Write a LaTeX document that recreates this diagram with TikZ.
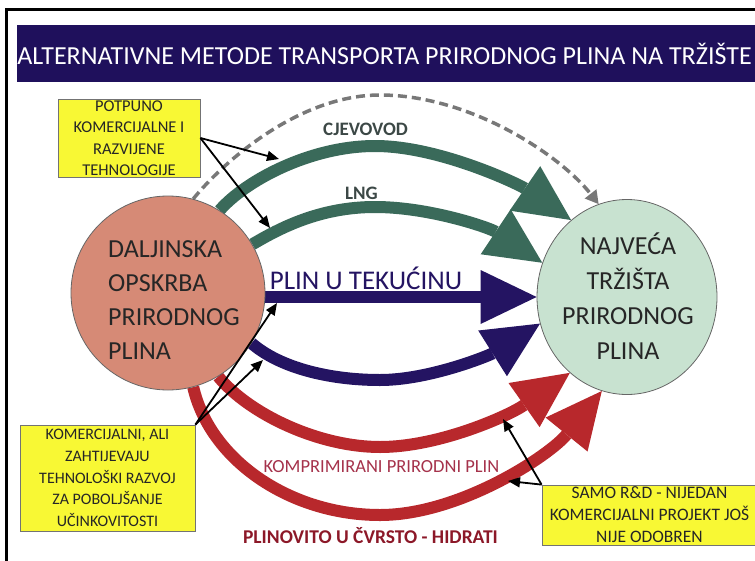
\documentclass[tikz,border=0pt]{standalone}
\usepackage{fontspec}
\setmainfont{Carlito}
\usetikzlibrary{arrows.meta,shapes.geometric}
\pgfdeclarelayer{background}
\pgfsetlayers{background,main}
\definecolor{titlebg}{RGB}{31,16,92}
\definecolor{salmon}{RGB}{214,138,118}
\definecolor{mint}{RGB}{200,226,208}
\definecolor{pipegreen}{RGB}{58,106,90}
\definecolor{navy}{RGB}{36,20,98}
\definecolor{redarr}{RGB}{184,40,44}
\definecolor{dashgray}{RGB}{120,120,120}
\definecolor{boxyellow}{RGB}{248,248,52}
\definecolor{labelgray}{RGB}{60,72,70}
\definecolor{cngred}{RGB}{165,50,75}
\definecolor{hydred}{RGB}{140,24,40}
\begin{document}
\begin{tikzpicture}[x=1pt,y=-1pt,
  bigarrow/.style={line width=12pt,-{Triangle[length=56pt 0 0,width=54pt 0 0,line width=0pt 0 0]}},
  note/.style={rectangle,draw=black!55,line width=0.8pt,fill=boxyellow,inner sep=0pt,align=center,text=black!85},
  pointer/.style={line width=1.8pt,-{Triangle[length=12pt 0 0,width=10pt 0 0]}},
  bigtext/.style={inner sep=0pt,text=black!85,font=\fontsize{26}{34}\selectfont},
  pathlabel/.style={inner sep=0pt,text=labelgray,font=\bfseries\fontsize{19}{22}\selectfont}]
\useasboundingbox (0,0) rectangle (755,560);
% frame and title
\draw[line width=3pt] (6.5,9) rectangle (770,575);
\fill[titlebg] (17,25) rectangle (760,82);
\node[text=white,inner sep=0pt,font=\fontsize{26}{30}\selectfont] (title) at (384.5,54) {ALTERNATIVNE METODE TRANSPORTA PRIRODNOG PLINA NA TRŽIŠTE};
% circles
\node[circle,fill=salmon,draw=black!60,line width=0.8pt,minimum size=194pt,inner sep=0pt] (L) at (168,293) {};
\node[bigtext,anchor=west,align=left] (Ltext) at (108,300) {DALJINSKA\\OPSKRBA\\PRIRODNOG\\PLINA};
\node[ellipse,fill=mint,draw=black!60,line width=0.8pt,minimum width=180pt,minimum height=195pt,inner sep=0pt] (R) at (627,297) {};
\node[bigtext,align=center,font=\fontsize{26}{35}\selectfont] (Rtext) at (628,296) {NAJVEĆA\\TRŽIŠTA\\PRIRODNOG\\PLINA};
% yellow notes
\node[note,minimum width=142pt,minimum height=78pt,font=\fontsize{16.5}{21.5}\selectfont] (B1) at (129,138) {POTPUNO\\KOMERCIJALNE I\\RAZVIJENE\\TEHNOLOGIJE};
\node[note,minimum width=175pt,minimum height=106pt,font=\fontsize{16}{21.7}\selectfont] (B2) at (107.5,478) {KOMERCIJALNI, ALI\\ZAHTIJEVAJU\\TEHNOLOŠKI RAZVOJ\\ZA POBOLJŠANJE\\UČINKOVITOSTI};
\node[note,minimum width=215pt,minimum height=60pt,font=\fontsize{17.5}{22}\selectfont] (B3) at (649.5,515) {SAMO R\&D - NIJEDAN\\KOMERCIJALNI PROJEKT JOŠ\\NIJE ODOBREN};
% labels
\node[pathlabel] (cjl) at (365.5,129) {CJEVOVOD};
\node[pathlabel] (lngl) at (361.5,193.5) {LNG};
\node[inner sep=0pt,text=navy,font=\fontsize{27}{30}\selectfont] (tekl) at (366,278.5) {PLIN U TEKUĆINU};
\node[inner sep=0pt,text=cngred,font=\fontsize{18.5}{22}\selectfont] (cng) at (381.5,467) {KOMPRIMIRANI PRIRODNI PLIN};
\node[inner sep=0pt,text=hydred,font=\bfseries\fontsize{19.5}{22}\selectfont] (hyd) at (370.5,536) {PLINOVITO U ČVRSTO - HIDRATI};
% connectors behind circles
\begin{pgfonlayer}{background}
\draw[dashgray,line width=3.5pt,dash pattern=on 9pt off 5pt,-{Triangle[length=13pt 0 0,width=15pt 0 0,line width=0pt 0 0]}]
  (L.75) .. controls (225,160) and (300,95) .. (380,95) .. controls (470,95) and (560,155) .. (R.107);
\draw[pipegreen,bigarrow] (L.58) .. controls (245,181) and (310,146) .. (375,146) .. controls (440,146) and (520,185) .. (R.126);
\draw[pipegreen,bigarrow] (L.30) .. controls (280,228) and (320,207) .. (375,207) .. controls (430,207) and (490,228) .. (R.158);
\draw[navy,bigarrow] (L.east |- R.west) -- (R.west);
\draw[navy,bigarrow] (L.-31) .. controls (280,368) and (330,380) .. (380,380) .. controls (430,380) and (490,355) .. (R.197);
\draw[redarr,bigarrow] (L.-59) .. controls (250,415) and (320,447) .. (380,447) .. controls (440,447) and (510,415) .. (R.233);
\draw[redarr,bigarrow] (L.-75) .. controls (210,460) and (290,515) .. (380,515) .. controls (460,515) and (550,455) .. (R.255);
\end{pgfonlayer}
% pointer targets
\coordinate (p1) at (279,159);
\coordinate (p2) at (270,228);
\coordinate (p3) at (277,303);
\coordinate (p4) at (263,360);
\coordinate (p5) at (503,419);
\coordinate (p6) at (508,481);
\draw[pointer] (B1.east) -- (p1);
\draw[pointer] (B1.east) -- (p2);
\draw[pointer] (B2.north east) -- (p3);
\draw[pointer] (B2.north east) -- (p4);
\draw[pointer] (B3.north west) -- (p5);
\draw[pointer] (B3.north west) -- (p6);
\end{tikzpicture}
\end{document}
